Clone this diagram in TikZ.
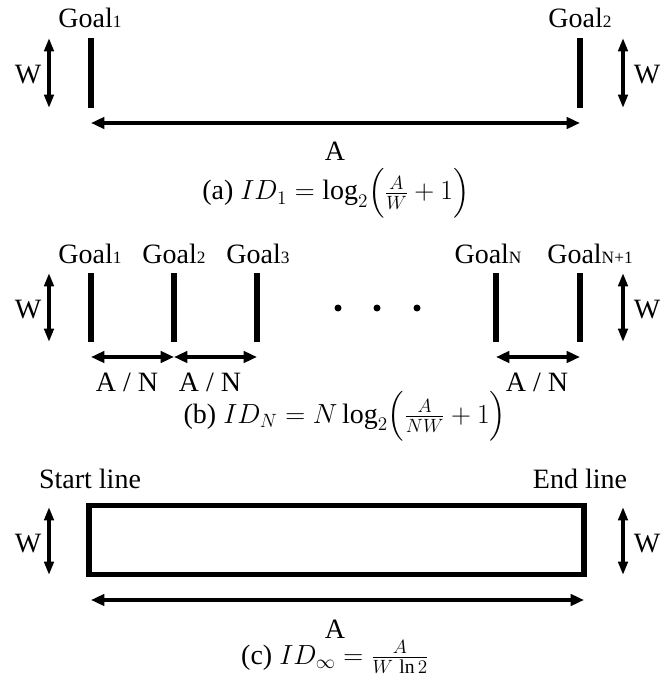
\documentclass[tikz,border=0pt]{standalone}
\usepackage{amsmath}
\usepackage{fontspec}
\setmainfont{Liberation Serif}
\usetikzlibrary{arrows.meta}
\newcommand{\idx}[1]{{\fontsize{13}{13}\selectfont #1}}
\begin{document}
\begin{tikzpicture}[x=0.75pt, y=-0.75pt, font=\fontsize{21}{25}\selectfont,
  bar/.style={line width=5pt},
  dim/.style={line width=2.6pt, {Triangle[length=10pt,width=8.5pt]}-{Triangle[length=10pt,width=8.5pt]}},
  sz/.style={line width=2.6pt, {Triangle[length=10pt,width=7pt]}-{Triangle[length=10pt,width=7pt]}}]
  \useasboundingbox (0,0) rectangle (661,691);
  % (a)
  \coordinate (a1t) at (91,38);
  \coordinate (a1b) at (91,108);
  \coordinate (a2t) at (580,38);
  \coordinate (a2b) at (580,108);
  \coordinate (awl1) at (49,38);
  \coordinate (awl2) at (49,108);
  \coordinate (awr1) at (623,38);
  \coordinate (awr2) at (623,108);
  \coordinate (aa1) at (91,123);
  \coordinate (aa2) at (580,123);
  \node[anchor=base] (ag1) at (90,28) {Goal\idx{1}};
  \node[anchor=base] (ag2) at (580,28) {Goal\idx{2}};
  \node (awl) at (28,75) {W};
  \node (awr) at (647,75) {W};
  \node[anchor=base] (aa) at (335,161) {A};
  \node[anchor=base] (acap) at (336,200) {(a) $ID_1=\log_2\Bigl(\frac{A}{W}+1\Bigr)$};
  \draw[bar] (a1t) -- (a1b);
  \draw[bar] (a2t) -- (a2b);
  \draw[sz] (awl1) -- (awl2);
  \draw[sz] (awr1) -- (awr2);
  \draw[dim] (aa1) -- (aa2);
  % (b)
  \foreach \n/\x in {1/91,2/174,3/257,N/496,M/580} {
    \coordinate (b\n t) at (\x,273);
    \coordinate (b\n b) at (\x,342);
    \coordinate (b\n a) at (\x,357);
    \draw[bar] (b\n t) -- (b\n b);
  }
  \node[anchor=base] (bg1) at (90,263) {Goal\idx{1}};
  \node[anchor=base] (bg2) at (174,263) {Goal\idx{2}};
  \node[anchor=base] (bg3) at (258,263) {Goal\idx{3}};
  \node[anchor=base] (bgN) at (488,263) {Goal\idx{N}};
  \node[anchor=base] (bgM) at (590,263) {Goal\idx{N+1}};
  \coordinate (bwl1) at (49,273);
  \coordinate (bwl2) at (49,342);
  \coordinate (bwr1) at (623,273);
  \coordinate (bwr2) at (623,342);
  \node (bwl) at (28,310) {W};
  \node (bwr) at (647,310) {W};
  \draw[sz] (bwl1) -- (bwl2);
  \draw[sz] (bwr1) -- (bwr2);
  \draw[dim] (b1a) -- (b2a);
  \draw[dim] (b2a) -- (b3a);
  \draw[dim] (bNa) -- (bMa);
  \node[anchor=base] (bn1) at (127,391) {A / N};
  \node[anchor=base] (bn2) at (210,391) {A / N};
  \node[anchor=base] (bn3) at (537,391) {A / N};
  \foreach \x in {338,377,417} \fill (\x,308) circle (3.5);
  \node[anchor=base] (bcap) at (345,423) {(b) $ID_N=N\log_2\Bigl(\frac{A}{NW}+1\Bigr)$};
  % (c)
  \coordinate (c1) at (89,505.5);
  \coordinate (c2) at (584,574.5);
  \draw[line width=4pt] (c1) rectangle (c2);
  \node[anchor=base] (cs) at (90,488) {Start line};
  \node[anchor=base] (ce) at (580,488) {End line};
  \coordinate (cwl1) at (49,507);
  \coordinate (cwl2) at (49,575);
  \coordinate (cwr1) at (623,507);
  \coordinate (cwr2) at (623,575);
  \node (cwl) at (28,544) {W};
  \node (cwr) at (647,544) {W};
  \draw[sz] (cwl1) -- (cwl2);
  \draw[sz] (cwr1) -- (cwr2);
  \coordinate (ca1) at (91,600);
  \coordinate (ca2) at (584,600);
  \draw[dim] (ca1) -- (ca2);
  \node[anchor=base] (ca) at (335,638) {A};
  \node[anchor=base] (ccap) at (335,664) {(c) $ID_\infty=\frac{A}{W\,\ln 2}$};
\end{tikzpicture}
\end{document}
